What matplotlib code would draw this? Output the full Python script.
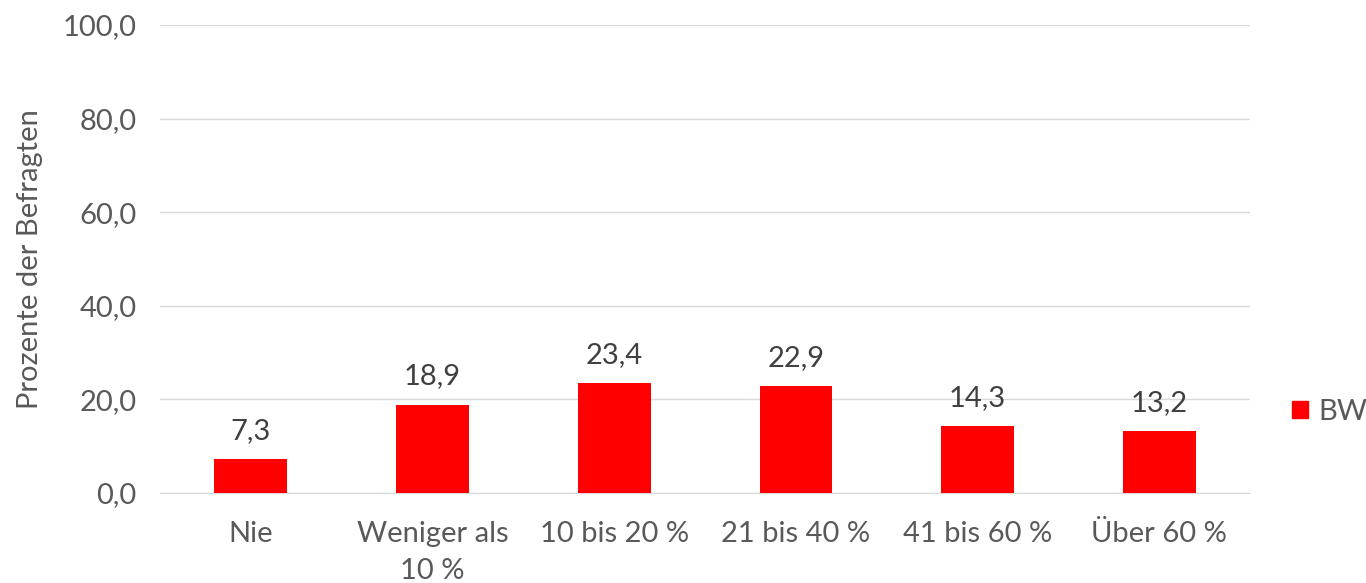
import matplotlib
matplotlib.use("Agg")
import matplotlib.pyplot as plt
from matplotlib.patches import Patch

categories = ["Nie", "Weniger als\n10 %", "10 bis 20 %", "21 bis 40 %", "41 bis 60 %", "Über 60 %"]
values = [7.3, 18.9, 23.4, 22.9, 14.3, 13.2]
yticks = [0, 20, 40, 60, 80, 100]
series_name = "BW"

plt.rcParams['font.family'] = ['Lato', 'DejaVu Sans']
txt = "#595959"
fs = 21

fig = plt.figure(figsize=(13.66, 5.83), dpi=100)
ax = fig.add_axes([160/1366, 1-493/583, 1090/1366, 468/583])

x = range(len(categories))
ax.bar(x, values, width=0.4, color="#ff0000", zorder=3)
for xi, v in zip(x, values):
    ax.annotate(f"{v:.1f}".replace(".", ","), (xi, v), xytext=(0, 11), textcoords="offset points",
                ha="center", va="bottom", fontsize=fs, color="#404040")

ax.set_xlim(-0.5, len(categories)-0.5)
ax.set_ylim(0, 100)
ax.set_yticks(yticks)
ax.set_yticklabels([f"{t:.1f}".replace(".", ",") for t in yticks], fontsize=fs, color=txt)
ax.set_xticks(list(x))
ax.set_xticklabels(categories, fontsize=fs, color=txt, linespacing=1.55)
ax.tick_params(axis='y', length=0, pad=17)
ax.tick_params(axis='x', length=0, pad=20)
ax.grid(axis='y', color="#d9d9d9", linewidth=1, zorder=0)
for s in ["top", "right", "left"]:
    ax.spines[s].set_visible(False)
ax.spines["bottom"].set_color("#d9d9d9")
ax.set_ylabel("Prozente der Befragten", fontsize=fs, color=txt, labelpad=14)

fig.legend(handles=[Patch(color="#ff0000", label=series_name)], loc="center left",
           bbox_to_anchor=(1292/1366, 1-412/583), frameon=False, fontsize=fs,
           borderpad=0, borderaxespad=0,
           handlelength=0.55, handleheight=0.55, handletextpad=0.35, labelcolor=txt)

fig.savefig("out.png", dpi=100)
